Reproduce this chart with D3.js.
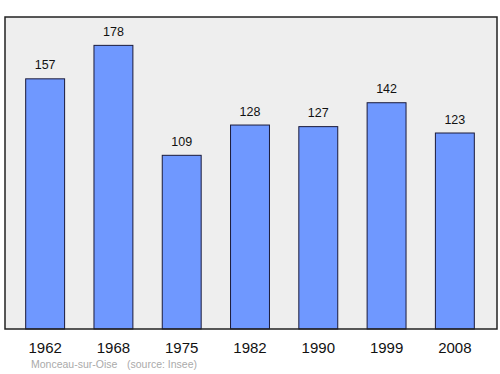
<!DOCTYPE html>
<html>
<head>
<meta charset="utf-8">
<script src="https://cdn.jsdelivr.net/npm/d3@7"></script>
<style>
  body { margin: 0; background: #fff; }
  text { font-family: "Liberation Sans", Arial, sans-serif; }
</style>
</head>
<body>
<svg width="500" height="374"></svg>
<script>
// ---> Data
const years = ["1962", "1968", "1975", "1982", "1990", "1999", "2008"];
const population = [157, 178, 109, 128, 127, 142, 123];
const commune = "Monceau-sur-Oise";
const source = "(source: Insee)";

const svg = d3.select("svg");

// frame
const frame = {left: 5, top: 17, right: 497, bottom: 329};

svg.append("rect")
    .attr("x", frame.left)
    .attr("y", frame.top)
    .attr("width", frame.right - frame.left)
    .attr("height", frame.bottom - frame.top)
    .attr("fill", "#eeeeee");

const x = d3.scaleBand()
    .domain(years)
    .range([11, 489])
    .paddingInner(0.43)
    .paddingOuter(0.215);

const y = d3.scaleLinear()
    .domain([0, d3.max(population) * 1.1])
    .range([frame.bottom, frame.top]);

//bars
svg.append("g")
    .selectAll("rect")
    .data(years)
    .enter()
    .append("rect")
    .attr("x", (d) => x(d))
    .attr("y", (d, i) => y(population[i]))
    .attr("width", x.bandwidth())
    .attr("height", (d, i) => y(0) - y(population[i]))
    .attr("fill", "#6f98ff")
    .attr("stroke", "#1a1a3a")
    .attr("stroke-width", 1);

//value labels
svg.append("g")
    .selectAll("text")
    .data(years)
    .enter()
    .append("text")
    .attr("x", (d) => x(d) + x.bandwidth() / 2)
    .attr("y", (d, i) => y(population[i]) - 9.5)
    .attr("text-anchor", "middle")
    .attr("font-size", 12.5)
    .attr("fill", "#111")
    .text((d, i) => population[i]);

// frame border on top of bars
svg.append("rect")
    .attr("x", frame.left)
    .attr("y", frame.top)
    .attr("width", frame.right - frame.left)
    .attr("height", frame.bottom - frame.top)
    .attr("fill", "none")
    .attr("stroke", "#222")
    .attr("stroke-width", 1.5);

//year axis
const xAxis = d3.axisBottom(x).tickSize(0).tickPadding(0);
svg.append("g")
    .attr("transform", "translate(0," + 342 + ")")
    .call(xAxis)
    .call((g) => g.select(".domain").remove())
    .selectAll("text")
    .attr("font-family", "Liberation Sans, Arial, sans-serif")
    .attr("font-size", 15)
    .attr("fill", "#111");

//source line
svg.append("text")
    .attr("x", 31)
    .attr("y", 368)
    .attr("font-size", 10.5)
    .attr("fill", "#aaaaaa")
    .text(commune);

svg.append("text")
    .attr("x", 127)
    .attr("y", 368)
    .attr("font-size", 10.5)
    .attr("fill", "#aaaaaa")
    .text(source);
</script>
</body>
</html>
